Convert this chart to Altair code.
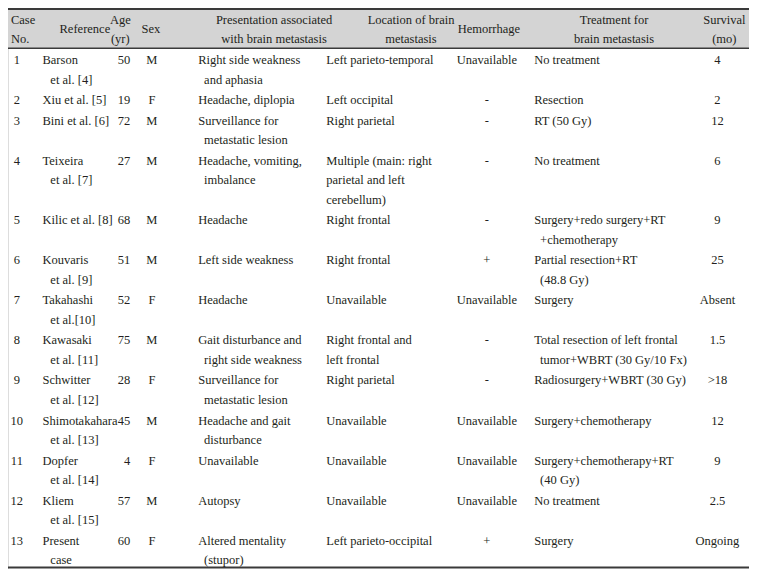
import altair as alt
import pandas as pd

# ---------------- table content ----------------
headers = ["Case\nNo.", "Reference", "Age\n(yr)", "Sex",
           "Presentation associated\nwith brain metastasis",
           "Location of brain\nmetastasis", "Hemorrhage",
           "Treatment for\nbrain metastasis", "Survival\n(mo)"]

case_no = [str(i) for i in range(1, 14)]
references = ["Barson\net al. [4]", "Xiu et al. [5]", "Bini et al. [6]", "Teixeira\net al. [7]",
              "Kilic et al. [8]", "Kouvaris\net al. [9]", "Takahashi\net al.[10]",
              "Kawasaki\net al. [11]", "Schwitter\net al. [12]", "Shimotakahara\net al. [13]",
              "Dopfer\net al. [14]", "Kliem\net al. [15]", "Present\ncase"]
ages = ["50", "19", "72", "27", "68", "51", "52", "75", "28", "45", "4", "57", "60"]
sexes = ["M", "F", "M", "M", "M", "M", "F", "M", "F", "M", "F", "M", "F"]
presentations = ["Right side weakness\nand aphasia", "Headache, diplopia",
                 "Surveillance for\nmetastatic lesion", "Headache, vomiting,\nimbalance",
                 "Headache", "Left side weakness", "Headache",
                 "Gait disturbance and\nright side weakness", "Surveillance for\nmetastatic lesion",
                 "Headache and gait\ndisturbance", "Unavailable", "Autopsy",
                 "Altered mentality\n(stupor)"]
locations = ["Left parieto-temporal", "Left occipital", "Right parietal",
             "Multiple (main: right\nparietal and left\ncerebellum)", "Right frontal",
             "Right frontal", "Unavailable", "Right frontal and\nleft frontal", "Right parietal",
             "Unavailable", "Unavailable", "Unavailable", "Left parieto-occipital"]
hemorrhage = ["Unavailable", "-", "-", "-", "-", "+", "Unavailable", "-", "-",
              "Unavailable", "Unavailable", "Unavailable", "+"]
treatments = ["No treatment", "Resection", "RT (50 Gy)", "No treatment",
              "Surgery+redo surgery+RT\n+chemotherapy", "Partial resection+RT\n(48.8 Gy)",
              "Surgery", "Total resection of left frontal\ntumor+WBRT (30 Gy/10 Fx)",
              "Radiosurgery+WBRT (30 Gy)", "Surgery+chemotherapy",
              "Surgery+chemotherapy+RT\n(40 Gy)", "No treatment", "Surgery"]
survival = ["4", "2", "12", "6", "9", "25", "Absent", "1.5", ">18", "12", "9", "2.5", "Ongoing"]

columns = [case_no, references, ages, sexes, presentations, locations,
           hemorrhage, treatments, survival]

# ---------------- layout (reference pixel units) ----------------
TABLE_W, TABLE_H = 752, 569
body_layout = [(9, "center", 0), (35, "left", 8), (124, "right", 0), (146, "center", 0),
               (193, "left", 6), (323, "left", 0), (486, "center", 0),
               (534, "left", 6), (720, "center", 0)]
header_layout = [(3, "left"), (78, "center"), (114, "center"), (145, "center"),
                 (270, "center"), (409, "center"), (488, "center"), (615, "center"),
                 (727, "center")]
LINE = 19.6
GAP = 1.4
FIRST_ROW_Y = 53

recs = []
for (hx, al), h in zip(header_layout, headers):
    lines = h.split("\n")
    ys = [12, 31] if len(lines) == 2 else [21.5]
    for ln, yy in zip(lines, ys):
        recs.append({"px": hx, "py": yy, "text": ln, "align": al})

y = FIRST_ROW_Y
for r in range(len(case_no)):
    cells = [col[r] for col in columns]
    nlines = max(len(c.split("\n")) for c in cells)
    for (bx, al, ind), cell in zip(body_layout, cells):
        for k, ln in enumerate(cell.split("\n")):
            recs.append({"px": bx + (ind if k > 0 else 0), "py": y + k * LINE,
                         "text": ln.strip(), "align": al})
    y += nlines * LINE + GAP

df = pd.DataFrame(recs)

xs = alt.Scale(domain=[0, TABLE_W], nice=False, zero=False)
ys_ = alt.Scale(domain=[0, TABLE_H], nice=False, zero=False, reverse=True)

band = pd.DataFrame([{"left": 0, "right": TABLE_W, "top": 1.0, "bottom": 40.5}])
rules = pd.DataFrame([
    {"left": 0, "right": TABLE_W, "py": 1.0, "w": 2.2},
    {"left": 0, "right": TABLE_W, "py": 40.8, "w": 1.5},
    {"left": 0, "right": TABLE_W, "py": 567.5, "w": 2.2},
])

# header shading
bg = alt.Chart(band).mark_rect(color="#d4d4d4").encode(
    x=alt.X("left:Q", scale=xs, axis=None),
    x2=alt.X2("right"),
    y=alt.Y("top:Q", scale=ys_, axis=None),
    y2=alt.Y2("bottom"))

rule_layers = []
for w in sorted(set(rules["w"])):
    rule_layers.append(
        alt.Chart(rules[rules["w"] == w]).mark_rule(color="#3a3a3a", strokeWidth=w).encode(
            x=alt.X("left:Q", scale=xs, axis=None), x2=alt.X2("right"),
            y=alt.Y("py:Q", scale=ys_, axis=None)))

text_layers = []
for al in ["left", "center", "right"]:
    sub = df[df["align"] == al]
    text_layers.append(
        alt.Chart(sub).mark_text(align=al, baseline="middle", font="Liberation Serif",
                                 fontSize=12.5, color="#231f20").encode(
            x=alt.X("px:Q", scale=xs, axis=None),
            y=alt.Y("py:Q", scale=ys_, axis=None),
            text="text:N"))

chart = alt.layer(bg, *rule_layers, *text_layers).properties(
    width=741, height=561, padding=0,
    autosize=alt.AutoSizeParams(type="none")
).configure_view(stroke=None).configure(background="white")

chart.save("out.html", embed_options={"renderer": "svg", "actions": False})
